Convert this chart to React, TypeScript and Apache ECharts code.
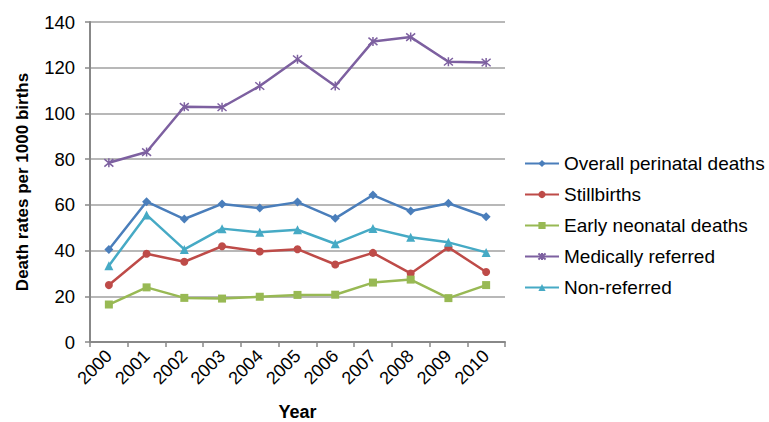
import React, { useEffect, useRef } from "react";
import * as echarts from "echarts";

const years = ["2000", "2001", "2002", "2003", "2004", "2005", "2006", "2007", "2008", "2009", "2010"];
const overall = [40.5, 61.4, 53.8, 60.4, 58.6, 61.2, 54.1, 64.3, 57.3, 60.7, 54.8];
const stillbirths = [24.9, 38.6, 35.1, 41.9, 39.6, 40.6, 33.9, 39.0, 30.0, 41.4, 30.6];
const earlyNeonatal = [16.4, 23.9, 19.3, 19.0, 19.8, 20.6, 20.7, 26.0, 27.3, 19.2, 24.9];
const medicallyReferred = [78.4, 83.1, 102.9, 102.7, 112.0, 123.7, 112.0, 131.5, 133.4, 122.6, 122.3];
const nonReferred = [33.4, 55.6, 40.5, 49.6, 48.0, 49.1, 43.0, 49.7, 45.8, 43.6, 39.2];
const yTicks = { min: 0, max: 140, interval: 20 };

const FONT = "'Liberation Sans', Arial, Helvetica, sans-serif";
const ASTERISK = "path://M0,0L10,10M10,0L0,10M5,-1L5,11";

export default function App() {
  const ref = useRef<HTMLDivElement>(null);
  useEffect(() => {
    if (!ref.current) return;
    const chart = echarts.init(ref.current, null, { renderer: "svg" });
    const mk = (name: string, data: number[], color: string, symbol: string, size: number, extra: any = {}) => ({
      name,
      type: "line",
      data,
      symbol,
      symbolSize: size,
      showAllSymbol: true,
      lineStyle: { color, width: 2.5 },
      itemStyle: { color, ...extra },
      emphasis: { disabled: true },
    });
    chart.setOption({
      animation: false,
      textStyle: { fontFamily: FONT },
      grid: { left: 90, top: 22, width: 415, height: 320, containLabel: false, outerBoundsMode: "none" },
      legend: {
        orient: "vertical",
        left: 524,
        top: 154,
        padding: 0,
        itemWidth: 34,
        itemHeight: 9,
        itemGap: 12,
        textStyle: { fontSize: 19, color: "#000", fontFamily: FONT },
        data: ["Overall perinatal deaths", "Stillbirths", "Early neonatal deaths", "Medically referred", "Non-referred"],
      },
      xAxis: {
        type: "category",
        data: years,
        boundaryGap: true,
        name: "Year",
        nameLocation: "middle",
        nameGap: 61,
        nameTextStyle: { fontSize: 18, fontWeight: "bold", color: "#000", fontFamily: FONT },
        axisLine: { lineStyle: { color: "#888", width: 2 } },
        axisTick: { show: true, length: 5, lineStyle: { color: "#888", width: 1.5 } },
        axisLabel: { rotate: 45, fontSize: 18, color: "#000", margin: 11, fontFamily: FONT },
      },
      yAxis: {
        type: "value",
        min: yTicks.min,
        max: yTicks.max,
        interval: yTicks.interval,
        name: "Death rates per 1000 births",
        nameLocation: "middle",
        nameGap: 59,
        nameTextStyle: { fontSize: 17, fontWeight: "bold", color: "#000", fontFamily: FONT },
        axisLine: { show: true, lineStyle: { color: "#888", width: 2 } },
        axisTick: { show: true, length: 5, lineStyle: { color: "#888", width: 1.5 } },
        axisLabel: { fontSize: 18.5, color: "#000", margin: 15, fontFamily: FONT },
        splitLine: { show: true, lineStyle: { color: "#a0a0a0", width: 1.5 } },
      },
      series: [
        mk("Overall perinatal deaths", overall, "#4A7EBB", "diamond", 9),
        mk("Stillbirths", stillbirths, "#BE4B48", "circle", 8),
        mk("Early neonatal deaths", earlyNeonatal, "#98B954", "rect", 8),
        mk("Medically referred", medicallyReferred, "#7D60A0", ASTERISK, 9, { borderColor: "#7D60A0", borderWidth: 1.5 }),
        mk("Non-referred", nonReferred, "#46AAC5", "triangle", 9),
      ],
    });
    return () => chart.dispose();
  }, []);
  return <div ref={ref} style={{ position: "absolute", left: 0, top: 0, width: 769, height: 422 }} />;
}
